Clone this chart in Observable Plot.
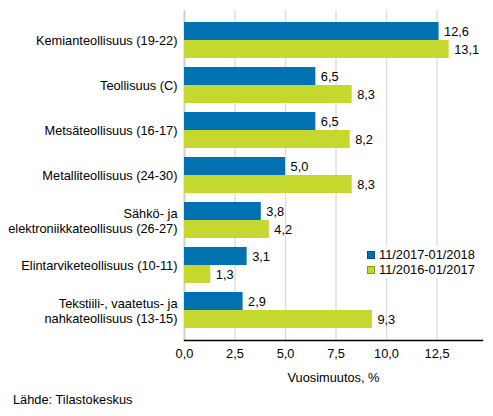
<!DOCTYPE html>
<html>
<head>
<meta charset="utf-8">
<script src="https://cdn.jsdelivr.net/npm/d3@7"></script>
<script src="https://cdn.jsdelivr.net/npm/@observablehq/plot@0.6"></script>
<style>
  body { margin: 0; background: #fff; font-family: "Liberation Sans", Arial, sans-serif; }
  #wrap { position: relative; width: 493px; height: 416px; }
  #legend { position: absolute; left: 362px; top: 246px; width: 120px; background: #fff; font-size: 12.8px; color: #000; padding: 1px 0; }
  #legend .row { display: flex; align-items: center; height: 15px; }
  #legend .sw { width: 8px; height: 8px; margin: 0 4px 0 5px; box-sizing: border-box; }
  #source { position: absolute; left: 13px; top: 392px; font-size: 12.8px; color: #000; line-height: 15px; }
</style>
</head>
<body>
<div id="wrap"></div>
<script>
const categories = [
  "Kemianteollisuus (19-22)",
  "Teollisuus (C)",
  "Metsäteollisuus (16-17)",
  "Metalliteollisuus (24-30)",
  "Sähkö- ja\nelektroniikkateollisuus (26-27)",
  "Elintarviketeollisuus (10-11)",
  "Tekstiili-, vaatetus- ja\nnahkateollisuus (13-15)"
];
const seriesNames = ["11/2017-01/2018", "11/2016-01/2017"];
const values2018 = [12.6, 6.5, 6.5, 5.0, 3.8, 3.1, 2.9];
const values2017 = [13.1, 8.3, 8.2, 8.3, 4.2, 1.3, 9.3];
const xTicks = [0, 2.5, 5, 7.5, 10, 12.5];
const colors = ["#0072b1", "#c4d82f"];

const d18 = categories.map((c, i) => ({cat: c, value: values2018[i]}));
const d17 = categories.map((c, i) => ({cat: c, value: values2017[i]}));
const fmt = d => d.toFixed(1).replace(".", ",");

const chart = Plot.plot({
  width: 493,
  height: 388,
  marginTop: 10,
  marginBottom: 48,
  marginLeft: 184,
  marginRight: 11,
  style: {fontFamily: "Liberation Sans, Arial, sans-serif", fontSize: "12.8px", color: "#000", background: "#fff"},
  x: {domain: [0, 14.75]},
  y: {domain: categories, paddingInner: 0.205, paddingOuter: 0.245},
  marks: [
    Plot.gridX(xTicks.filter(d => d > 0), {stroke: "#dadada", strokeOpacity: 1, strokeWidth: 1.3}),
    Plot.ruleX([0], {stroke: "#d0d0d0", strokeWidth: 2}),
    Plot.barX(d18, {x: "value", y: "cat", fill: colors[0], insetBottom: 18, insetTop: 0}),
    Plot.barX(d17, {x: "value", y: "cat", fill: colors[1], insetTop: 18, insetBottom: 0}),
    Plot.text(d18, {x: "value", y: "cat", text: d => fmt(d.value), textAnchor: "start", dx: 5, dy: -9, fill: "#000"}),
    Plot.text(d17, {x: "value", y: "cat", text: d => fmt(d.value), textAnchor: "start", dx: 5, dy: 9, fill: "#000"}),
    Plot.frame({anchor: "bottom", stroke: "#000", strokeWidth: 1.4}),
    Plot.axisY({tickSize: 0, tickPadding: 7, label: null, lineHeight: 1.17, fill: "#000"}),
    Plot.axisX({ticks: xTicks, tickFormat: fmt, tickSize: 0, tickPadding: 8, label: "Vuosimuutos, %", labelAnchor: "center", labelArrow: "none", labelOffset: 41, fill: "#000"})
  ]
});

const wrap = document.getElementById("wrap");
wrap.appendChild(chart);

const legend = document.createElement("div");
legend.id = "legend";
seriesNames.forEach((name, i) => {
  const row = document.createElement("div");
  row.className = "row";
  const sw = document.createElement("span");
  sw.className = "sw";
  sw.style.background = colors[i];
  sw.style.border = "1px solid " + (i === 0 ? "#004f7a" : "#8a9a10");
  const t = document.createElement("span");
  t.textContent = name;
  row.appendChild(sw);
  row.appendChild(t);
  legend.appendChild(row);
});
wrap.appendChild(legend);

const src = document.createElement("div");
src.id = "source";
src.textContent = "Lähde: Tilastokeskus";
wrap.appendChild(src);
</script>
</body>
</html>
